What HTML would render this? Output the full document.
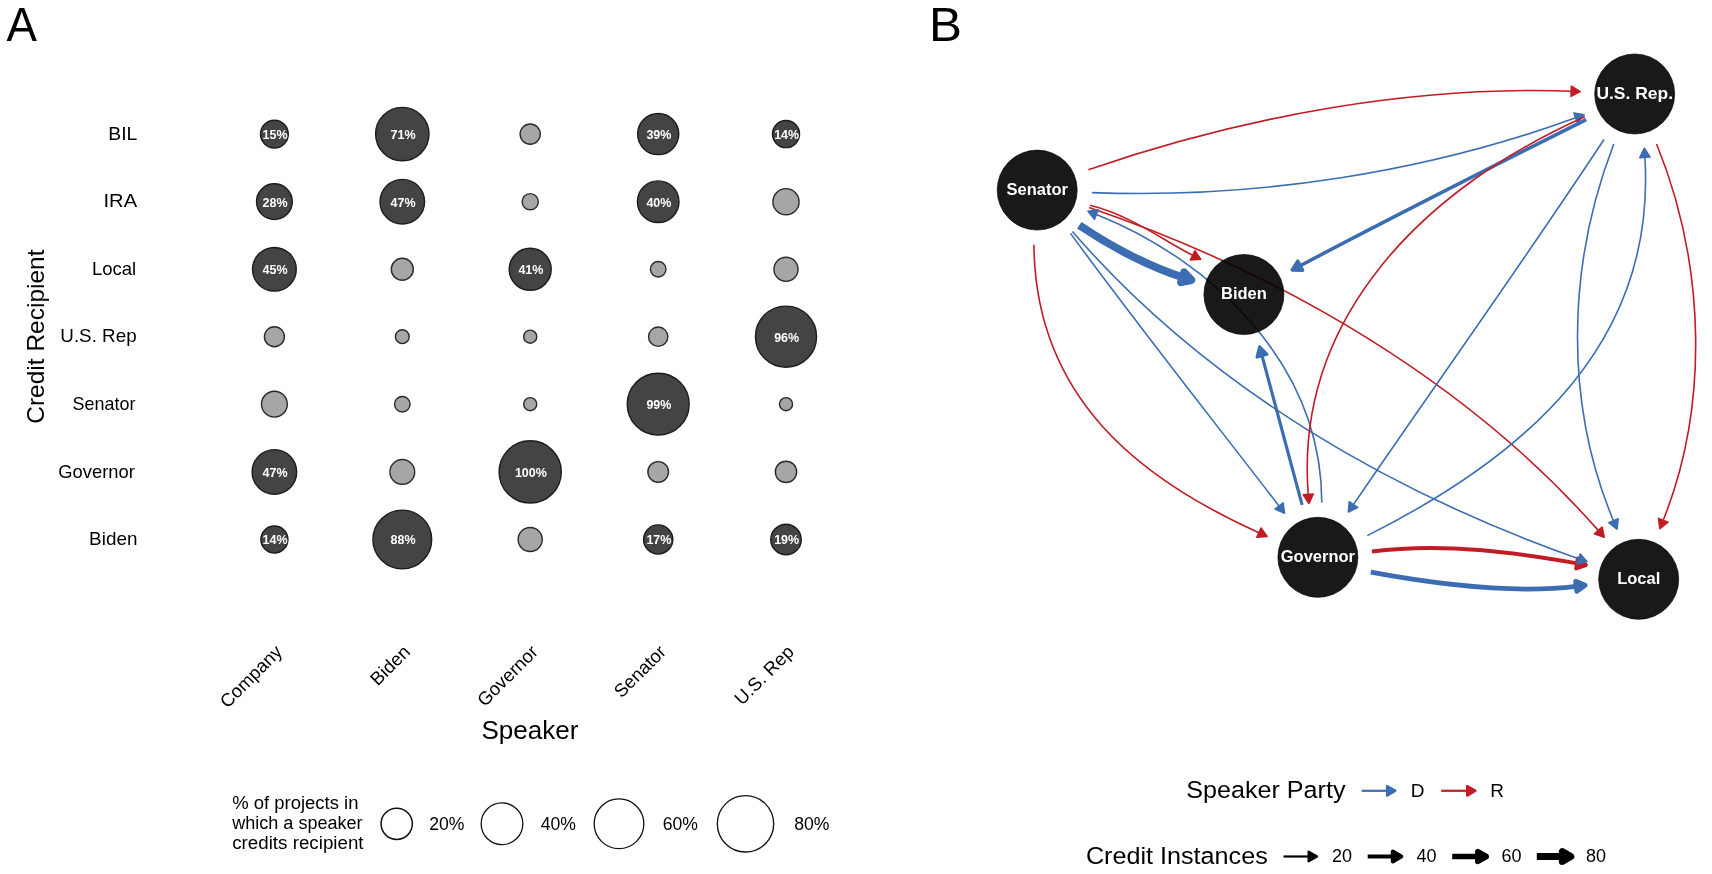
<!DOCTYPE html>
<html><head><meta charset="utf-8"><style>
html,body{margin:0;padding:0;background:#fff;}
svg{display:block;will-change:transform;}
</style></head><body>
<svg width="1712" height="874" viewBox="0 0 1712 874">
<rect width="1712" height="874" fill="#fff"/>
<text transform="translate(6.5,41.1) scale(0.935,1)" font-size="48.8" font-family="'Liberation Sans', sans-serif">A</text>
<text x="137.4" y="139.7" font-size="19" text-anchor="end" textLength="29.1" lengthAdjust="spacingAndGlyphs" font-family="'Liberation Sans', sans-serif">BIL</text>
<text x="137.1" y="207.3" font-size="19" text-anchor="end" textLength="33.6" lengthAdjust="spacingAndGlyphs" font-family="'Liberation Sans', sans-serif">IRA</text>
<text x="136.2" y="274.9" font-size="19" text-anchor="end" textLength="44.3" lengthAdjust="spacingAndGlyphs" font-family="'Liberation Sans', sans-serif">Local</text>
<text x="136.6" y="342.3" font-size="19" text-anchor="end" textLength="76.3" lengthAdjust="spacingAndGlyphs" font-family="'Liberation Sans', sans-serif">U.S. Rep</text>
<text x="135.4" y="409.8" font-size="19" text-anchor="end" textLength="62.85" lengthAdjust="spacingAndGlyphs" font-family="'Liberation Sans', sans-serif">Senator</text>
<text x="134.8" y="477.5" font-size="19" text-anchor="end" textLength="76.5" lengthAdjust="spacingAndGlyphs" font-family="'Liberation Sans', sans-serif">Governor</text>
<text x="137.4" y="545.1" font-size="19" text-anchor="end" textLength="48.3" lengthAdjust="spacingAndGlyphs" font-family="'Liberation Sans', sans-serif">Biden</text>
<text transform="translate(44.1,336.6) rotate(-90)" font-size="24.5" text-anchor="middle" font-family="'Liberation Sans', sans-serif">Credit Recipient</text>
<circle cx="274.4" cy="134.1" r="13.90" fill="#444444" stroke="#1c1c1c" stroke-width="1.4"/>
<text x="275.1" y="139.0" font-size="12.5" font-weight="700" fill="#fff" text-anchor="middle" font-family="'Liberation Sans', sans-serif">15%</text>
<circle cx="402.3" cy="134.1" r="26.69" fill="#444444" stroke="#1c1c1c" stroke-width="1.4"/>
<text x="403.0" y="139.0" font-size="12.5" font-weight="700" fill="#fff" text-anchor="middle" font-family="'Liberation Sans', sans-serif">71%</text>
<circle cx="530.2" cy="134.1" r="10.10" fill="#a6a6a6" stroke="#2a2a2a" stroke-width="1.4"/>
<circle cx="658.2" cy="134.1" r="20.56" fill="#444444" stroke="#1c1c1c" stroke-width="1.4"/>
<text x="658.9" y="139.0" font-size="12.5" font-weight="700" fill="#fff" text-anchor="middle" font-family="'Liberation Sans', sans-serif">39%</text>
<circle cx="786" cy="134.1" r="13.53" fill="#444444" stroke="#1c1c1c" stroke-width="1.4"/>
<text x="786.7" y="139.0" font-size="12.5" font-weight="700" fill="#fff" text-anchor="middle" font-family="'Liberation Sans', sans-serif">14%</text>
<circle cx="274.4" cy="201.7" r="17.88" fill="#444444" stroke="#1c1c1c" stroke-width="1.4"/>
<text x="275.1" y="206.6" font-size="12.5" font-weight="700" fill="#fff" text-anchor="middle" font-family="'Liberation Sans', sans-serif">28%</text>
<circle cx="402.3" cy="201.7" r="22.28" fill="#444444" stroke="#1c1c1c" stroke-width="1.4"/>
<text x="403.0" y="206.6" font-size="12.5" font-weight="700" fill="#fff" text-anchor="middle" font-family="'Liberation Sans', sans-serif">47%</text>
<circle cx="530.2" cy="201.7" r="8.10" fill="#a6a6a6" stroke="#2a2a2a" stroke-width="1.4"/>
<circle cx="658.2" cy="201.7" r="20.79" fill="#444444" stroke="#1c1c1c" stroke-width="1.4"/>
<text x="658.9" y="206.6" font-size="12.5" font-weight="700" fill="#fff" text-anchor="middle" font-family="'Liberation Sans', sans-serif">40%</text>
<circle cx="786" cy="201.7" r="13.10" fill="#a6a6a6" stroke="#2a2a2a" stroke-width="1.4"/>
<circle cx="274.4" cy="269.3" r="21.87" fill="#444444" stroke="#1c1c1c" stroke-width="1.4"/>
<text x="275.1" y="274.2" font-size="12.5" font-weight="700" fill="#fff" text-anchor="middle" font-family="'Liberation Sans', sans-serif">45%</text>
<circle cx="402.3" cy="269.3" r="11.00" fill="#a6a6a6" stroke="#2a2a2a" stroke-width="1.4"/>
<circle cx="530.2" cy="269.3" r="21.01" fill="#444444" stroke="#1c1c1c" stroke-width="1.4"/>
<text x="530.9" y="274.2" font-size="12.5" font-weight="700" fill="#fff" text-anchor="middle" font-family="'Liberation Sans', sans-serif">41%</text>
<circle cx="658.2" cy="269.3" r="7.75" fill="#a6a6a6" stroke="#2a2a2a" stroke-width="1.4"/>
<circle cx="786" cy="269.3" r="12.05" fill="#a6a6a6" stroke="#2a2a2a" stroke-width="1.4"/>
<circle cx="274.4" cy="336.7" r="10.00" fill="#a6a6a6" stroke="#2a2a2a" stroke-width="1.4"/>
<circle cx="402.3" cy="336.7" r="6.90" fill="#a6a6a6" stroke="#2a2a2a" stroke-width="1.4"/>
<circle cx="530.2" cy="336.7" r="6.55" fill="#a6a6a6" stroke="#2a2a2a" stroke-width="1.4"/>
<circle cx="658.2" cy="336.7" r="9.65" fill="#a6a6a6" stroke="#2a2a2a" stroke-width="1.4"/>
<circle cx="786" cy="336.7" r="30.55" fill="#444444" stroke="#1c1c1c" stroke-width="1.4"/>
<text x="786.7" y="341.6" font-size="12.5" font-weight="700" fill="#fff" text-anchor="middle" font-family="'Liberation Sans', sans-serif">96%</text>
<circle cx="274.4" cy="404.2" r="12.90" fill="#a6a6a6" stroke="#2a2a2a" stroke-width="1.4"/>
<circle cx="402.3" cy="404.2" r="7.75" fill="#a6a6a6" stroke="#2a2a2a" stroke-width="1.4"/>
<circle cx="530.2" cy="404.2" r="6.55" fill="#a6a6a6" stroke="#2a2a2a" stroke-width="1.4"/>
<circle cx="658.2" cy="404.2" r="30.97" fill="#444444" stroke="#1c1c1c" stroke-width="1.4"/>
<text x="658.9" y="409.1" font-size="12.5" font-weight="700" fill="#fff" text-anchor="middle" font-family="'Liberation Sans', sans-serif">99%</text>
<circle cx="786" cy="404.2" r="6.55" fill="#a6a6a6" stroke="#2a2a2a" stroke-width="1.4"/>
<circle cx="274.4" cy="471.9" r="22.28" fill="#444444" stroke="#1c1c1c" stroke-width="1.4"/>
<text x="275.1" y="476.8" font-size="12.5" font-weight="700" fill="#fff" text-anchor="middle" font-family="'Liberation Sans', sans-serif">47%</text>
<circle cx="402.3" cy="471.9" r="12.40" fill="#a6a6a6" stroke="#2a2a2a" stroke-width="1.4"/>
<circle cx="530.2" cy="471.9" r="31.12" fill="#444444" stroke="#1c1c1c" stroke-width="1.4"/>
<text x="530.9" y="476.8" font-size="12.5" font-weight="700" fill="#fff" text-anchor="middle" font-family="'Liberation Sans', sans-serif">100%</text>
<circle cx="658.2" cy="471.9" r="10.30" fill="#a6a6a6" stroke="#2a2a2a" stroke-width="1.4"/>
<circle cx="786" cy="471.9" r="10.65" fill="#a6a6a6" stroke="#2a2a2a" stroke-width="1.4"/>
<circle cx="274.4" cy="539.5" r="13.53" fill="#444444" stroke="#1c1c1c" stroke-width="1.4"/>
<text x="275.1" y="544.4" font-size="12.5" font-weight="700" fill="#fff" text-anchor="middle" font-family="'Liberation Sans', sans-serif">14%</text>
<circle cx="402.3" cy="539.5" r="29.38" fill="#444444" stroke="#1c1c1c" stroke-width="1.4"/>
<text x="403.0" y="544.4" font-size="12.5" font-weight="700" fill="#fff" text-anchor="middle" font-family="'Liberation Sans', sans-serif">88%</text>
<circle cx="530.2" cy="539.5" r="12.05" fill="#a6a6a6" stroke="#2a2a2a" stroke-width="1.4"/>
<circle cx="658.2" cy="539.5" r="14.60" fill="#444444" stroke="#1c1c1c" stroke-width="1.4"/>
<text x="658.9" y="544.4" font-size="12.5" font-weight="700" fill="#fff" text-anchor="middle" font-family="'Liberation Sans', sans-serif">17%</text>
<circle cx="786" cy="539.5" r="15.26" fill="#444444" stroke="#1c1c1c" stroke-width="1.4"/>
<text x="786.7" y="544.4" font-size="12.5" font-weight="700" fill="#fff" text-anchor="middle" font-family="'Liberation Sans', sans-serif">19%</text>
<text transform="translate(283.4,653) rotate(-45)" font-size="18.5" text-anchor="end" font-family="'Liberation Sans', sans-serif">Company</text>
<text transform="translate(411.3,653) rotate(-45)" font-size="18.5" text-anchor="end" font-family="'Liberation Sans', sans-serif">Biden</text>
<text transform="translate(539.2,653) rotate(-45)" font-size="18.5" text-anchor="end" font-family="'Liberation Sans', sans-serif">Governor</text>
<text transform="translate(667.2,653) rotate(-45)" font-size="18.5" text-anchor="end" font-family="'Liberation Sans', sans-serif">Senator</text>
<text transform="translate(795.0,653) rotate(-45)" font-size="18.5" text-anchor="end" font-family="'Liberation Sans', sans-serif">U.S. Rep</text>
<text x="529.9" y="738.5" font-size="25" text-anchor="middle" textLength="97" lengthAdjust="spacingAndGlyphs" font-family="'Liberation Sans', sans-serif">Speaker</text>
<text x="232.2" y="808.6" font-size="18" textLength="126.3" lengthAdjust="spacingAndGlyphs" font-family="'Liberation Sans', sans-serif">% of projects in</text>
<text x="232.2" y="829.0" font-size="18" textLength="130.4" lengthAdjust="spacingAndGlyphs" font-family="'Liberation Sans', sans-serif">which a speaker</text>
<text x="232.2" y="849.4" font-size="18" textLength="131.4" lengthAdjust="spacingAndGlyphs" font-family="'Liberation Sans', sans-serif">credits recipient</text>
<circle cx="396.7" cy="823.8" r="15.63" fill="none" stroke="#111" stroke-width="1.5"/>
<text x="429.3" y="829.7" font-size="17.6" font-family="'Liberation Sans', sans-serif">20%</text>
<circle cx="502" cy="823.8" r="20.84" fill="none" stroke="#111" stroke-width="1.3"/>
<text x="540.8" y="829.7" font-size="17.6" font-family="'Liberation Sans', sans-serif">40%</text>
<circle cx="619" cy="823.8" r="24.83" fill="none" stroke="#111" stroke-width="1.3"/>
<text x="662.8" y="829.7" font-size="17.6" font-family="'Liberation Sans', sans-serif">60%</text>
<circle cx="745.5" cy="823.8" r="28.20" fill="none" stroke="#111" stroke-width="1.3"/>
<text x="794.3" y="829.7" font-size="17.6" font-family="'Liberation Sans', sans-serif">80%</text>
<text transform="translate(928.9,40.9) scale(1.01,1)" font-size="48.9" font-family="'Liberation Sans', sans-serif">B</text>
<path d="M1079.3,225.3 C1115.1,249.5 1153.7,268.2 1182.6,277.3" fill="none" stroke="#3c6db3" stroke-width="8.0" stroke-linecap="butt"/>
<path d="M1191.2,280.0 L1181.1,282.2 L1184.1,272.4 Z" fill="#3c6db3" stroke="#3c6db3" stroke-width="8.0" stroke-linejoin="round"/>
<path d="M1370.8,572.2 C1442.1,585.4 1515.1,593.7 1576.2,586.4" fill="none" stroke="#3c6db3" stroke-width="4.8" stroke-linecap="butt"/>
<path d="M1585.1,585.3 L1576.8,591.4 L1575.6,581.3 Z" fill="#3c6db3" stroke="#3c6db3" stroke-width="4.8" stroke-linejoin="round"/>
<path d="M1371.9,551.6 C1444.1,542.3 1517.0,552.9 1577.1,563.4" fill="none" stroke="#c11c24" stroke-width="4.0" stroke-linecap="butt"/>
<path d="M1585.9,565.0 L1576.2,568.4 L1577.9,558.4 Z" fill="#c11c24" stroke="#c11c24" stroke-width="4.0" stroke-linejoin="round"/>
<path d="M1586.2,119.6 C1487.3,169.1 1388.5,219.2 1300.2,265.7" fill="none" stroke="#3c6db3" stroke-width="3.5" stroke-linecap="butt"/>
<path d="M1292.2,269.9 L1297.8,261.2 L1302.6,270.2 Z" fill="#3c6db3" stroke="#3c6db3" stroke-width="3.5" stroke-linejoin="round"/>
<path d="M1302.1,504.9 C1287.7,451.8 1273.4,398.6 1262.0,355.6" fill="none" stroke="#3c6db3" stroke-width="3.2" stroke-linecap="butt"/>
<path d="M1259.7,346.9 L1266.9,354.3 L1257.1,357.0 Z" fill="#3c6db3" stroke="#3c6db3" stroke-width="3.2" stroke-linejoin="round"/>
<path d="M1088.4,169.7 C1246.3,115.5 1413.9,85.6 1571.2,91.2" fill="none" stroke="#c11c24" stroke-width="1.6" stroke-linecap="butt"/>
<path d="M1580.2,91.6 L1571.0,96.3 L1571.4,86.2 Z" fill="#c11c24" stroke="#c11c24" stroke-width="1.6" stroke-linejoin="round"/>
<path d="M1091.8,192.6 C1259.2,198.9 1427.9,171.7 1575.7,117.8" fill="none" stroke="#3c6db3" stroke-width="1.6" stroke-linecap="butt"/>
<path d="M1584.1,114.7 L1577.4,122.6 L1573.9,113.0 Z" fill="#3c6db3" stroke="#3c6db3" stroke-width="1.6" stroke-linejoin="round"/>
<path d="M1089.1,207.5 C1283.8,274.0 1468.0,382.2 1598.2,530.4" fill="none" stroke="#c11c24" stroke-width="1.6" stroke-linecap="butt"/>
<path d="M1604.2,537.2 L1594.4,533.8 L1602.1,527.1 Z" fill="#c11c24" stroke="#c11c24" stroke-width="1.6" stroke-linejoin="round"/>
<path d="M1090.0,205.2 C1131.2,215.3 1164.3,241.2 1192.6,255.3" fill="none" stroke="#c11c24" stroke-width="1.6" stroke-linecap="butt"/>
<path d="M1200.7,259.3 L1190.4,259.9 L1194.9,250.8 Z" fill="#c11c24" stroke="#c11c24" stroke-width="1.6" stroke-linejoin="round"/>
<path d="M1321.8,502.5 C1321.5,362.5 1210.3,259.9 1096.4,214.5" fill="none" stroke="#3c6db3" stroke-width="1.6" stroke-linecap="butt"/>
<path d="M1088.0,211.2 L1098.3,209.8 L1094.5,219.3 Z" fill="#3c6db3" stroke="#3c6db3" stroke-width="1.6" stroke-linejoin="round"/>
<path d="M1070.5,233.4 C1140.0,328.5 1213.3,420.4 1279.0,506.0" fill="none" stroke="#3c6db3" stroke-width="1.6" stroke-linecap="butt"/>
<path d="M1284.5,513.2 L1275.0,509.1 L1283.1,502.9 Z" fill="#3c6db3" stroke="#3c6db3" stroke-width="1.6" stroke-linejoin="round"/>
<path d="M1072.4,231.5 C1208.4,388.6 1393.7,493.6 1578.6,558.7" fill="none" stroke="#3c6db3" stroke-width="1.6" stroke-linecap="butt"/>
<path d="M1587.0,561.7 L1576.9,563.6 L1580.3,553.9 Z" fill="#3c6db3" stroke="#3c6db3" stroke-width="1.6" stroke-linejoin="round"/>
<path d="M1033.9,244.8 C1035.3,397.8 1139.3,478.8 1258.9,532.7" fill="none" stroke="#c11c24" stroke-width="1.6" stroke-linecap="butt"/>
<path d="M1267.1,536.4 L1256.8,537.3 L1261.0,528.0 Z" fill="#c11c24" stroke="#c11c24" stroke-width="1.6" stroke-linejoin="round"/>
<path d="M1584.9,116.7 C1426.0,187.6 1294.5,315.8 1308.2,494.4" fill="none" stroke="#c11c24" stroke-width="1.6" stroke-linecap="butt"/>
<path d="M1308.9,503.4 L1303.2,494.8 L1313.3,494.0 Z" fill="#c11c24" stroke="#c11c24" stroke-width="1.6" stroke-linejoin="round"/>
<path d="M1604.0,139.5 C1521.1,265.4 1432.9,388.0 1353.4,504.6" fill="none" stroke="#3c6db3" stroke-width="1.6" stroke-linecap="butt"/>
<path d="M1348.4,512.0 L1349.2,501.7 L1357.6,507.5 Z" fill="#3c6db3" stroke="#3c6db3" stroke-width="1.6" stroke-linejoin="round"/>
<path d="M1613.8,144.0 C1565.6,269.0 1565.3,405.8 1613.5,520.8" fill="none" stroke="#3c6db3" stroke-width="1.6" stroke-linecap="butt"/>
<path d="M1617.0,529.1 L1608.8,522.7 L1618.2,518.8 Z" fill="#3c6db3" stroke="#3c6db3" stroke-width="1.6" stroke-linejoin="round"/>
<path d="M1367.3,535.6 C1528.9,454.6 1656.2,341.6 1644.9,157.3" fill="none" stroke="#3c6db3" stroke-width="1.6" stroke-linecap="butt"/>
<path d="M1644.3,148.3 L1650.0,157.0 L1639.8,157.6 Z" fill="#3c6db3" stroke="#3c6db3" stroke-width="1.6" stroke-linejoin="round"/>
<path d="M1656.6,144.0 C1706.3,266.4 1708.7,406.5 1663.2,520.3" fill="none" stroke="#c11c24" stroke-width="1.6" stroke-linecap="butt"/>
<path d="M1659.9,528.7 L1658.5,518.4 L1668.0,522.2 Z" fill="#c11c24" stroke="#c11c24" stroke-width="1.6" stroke-linejoin="round"/>
<circle cx="1037.2" cy="190.1" r="40" fill="#000" fill-opacity="0.9" stroke="#000" stroke-opacity="0.75" stroke-width="0.9"/>
<text x="1037.2" y="195.0" font-size="16.5" font-weight="700" fill="#fff" text-anchor="middle" font-family="'Liberation Sans', sans-serif">Senator</text>
<circle cx="1243.9" cy="294.5" r="40" fill="#000" fill-opacity="0.9" stroke="#000" stroke-opacity="0.75" stroke-width="0.9"/>
<text x="1243.9" y="299.4" font-size="16.5" font-weight="700" fill="#fff" text-anchor="middle" font-family="'Liberation Sans', sans-serif">Biden</text>
<circle cx="1634.7" cy="94" r="40" fill="#000" fill-opacity="0.9" stroke="#000" stroke-opacity="0.75" stroke-width="0.9"/>
<text x="1634.7" y="98.9" font-size="16.5" font-weight="700" fill="#fff" text-anchor="middle" textLength="76.6" lengthAdjust="spacingAndGlyphs" font-family="'Liberation Sans', sans-serif">U.S. Rep.</text>
<circle cx="1317.9" cy="557.3" r="40" fill="#000" fill-opacity="0.9" stroke="#000" stroke-opacity="0.75" stroke-width="0.9"/>
<text x="1317.9" y="562.2" font-size="16.5" font-weight="700" fill="#fff" text-anchor="middle" font-family="'Liberation Sans', sans-serif">Governor</text>
<circle cx="1638.7" cy="579.3" r="40" fill="#000" fill-opacity="0.9" stroke="#000" stroke-opacity="0.75" stroke-width="0.9"/>
<text x="1638.7" y="584.2" font-size="16.5" font-weight="700" fill="#fff" text-anchor="middle" font-family="'Liberation Sans', sans-serif">Local</text>
<text x="1186.3" y="797.6" font-size="24.5" textLength="159.2" lengthAdjust="spacingAndGlyphs" font-family="'Liberation Sans', sans-serif">Speaker Party</text>
<path d="M1361.7,790.8 L1387.0,790.8" stroke="#3c6db3" stroke-width="2.2" fill="none"/>
<path d="M1395.5,790.8 L1387.0,785.9 L1387.0,795.7 Z" fill="#3c6db3" stroke="#3c6db3" stroke-width="2.2" stroke-linejoin="round"/>
<text x="1410.8" y="796.8" font-size="19" font-family="'Liberation Sans', sans-serif">D</text>
<path d="M1441.2,790.8 L1467.1,790.8" stroke="#c11c24" stroke-width="2.2" fill="none"/>
<path d="M1475.6,790.8 L1467.1,785.9 L1467.1,795.7 Z" fill="#c11c24" stroke="#c11c24" stroke-width="2.2" stroke-linejoin="round"/>
<text x="1490.2" y="796.8" font-size="19" font-family="'Liberation Sans', sans-serif">R</text>
<text x="1085.9" y="864" font-size="24.5" textLength="181.9" lengthAdjust="spacingAndGlyphs" font-family="'Liberation Sans', sans-serif">Credit Instances</text>
<path d="M1283.5,856.5 L1308.6,856.5" stroke="#000" stroke-width="2.2" fill="none"/>
<path d="M1317.1,856.5 L1308.6,851.6 L1308.6,861.4 Z" fill="#000" stroke="#000" stroke-width="2.2" stroke-linejoin="round"/>
<text x="1332" y="862" font-size="18" font-family="'Liberation Sans', sans-serif">20</text>
<path d="M1367.7,856.5 L1392.8,856.5" stroke="#000" stroke-width="4" fill="none"/>
<path d="M1401.3,856.5 L1392.8,851.6 L1392.8,861.4 Z" fill="#000" stroke="#000" stroke-width="4" stroke-linejoin="round"/>
<text x="1416.5" y="862" font-size="18" font-family="'Liberation Sans', sans-serif">40</text>
<path d="M1452.2,856.5 L1477.8,856.5" stroke="#000" stroke-width="5.5" fill="none"/>
<path d="M1486.3,856.5 L1477.8,851.6 L1477.8,861.4 Z" fill="#000" stroke="#000" stroke-width="5.5" stroke-linejoin="round"/>
<text x="1501.5" y="862" font-size="18" font-family="'Liberation Sans', sans-serif">60</text>
<path d="M1536.8,856.5 L1562.3,856.5" stroke="#000" stroke-width="7" fill="none"/>
<path d="M1570.8,856.5 L1562.3,851.6 L1562.3,861.4 Z" fill="#000" stroke="#000" stroke-width="7" stroke-linejoin="round"/>
<text x="1586" y="862" font-size="18" font-family="'Liberation Sans', sans-serif">80</text>
</svg></body></html>
